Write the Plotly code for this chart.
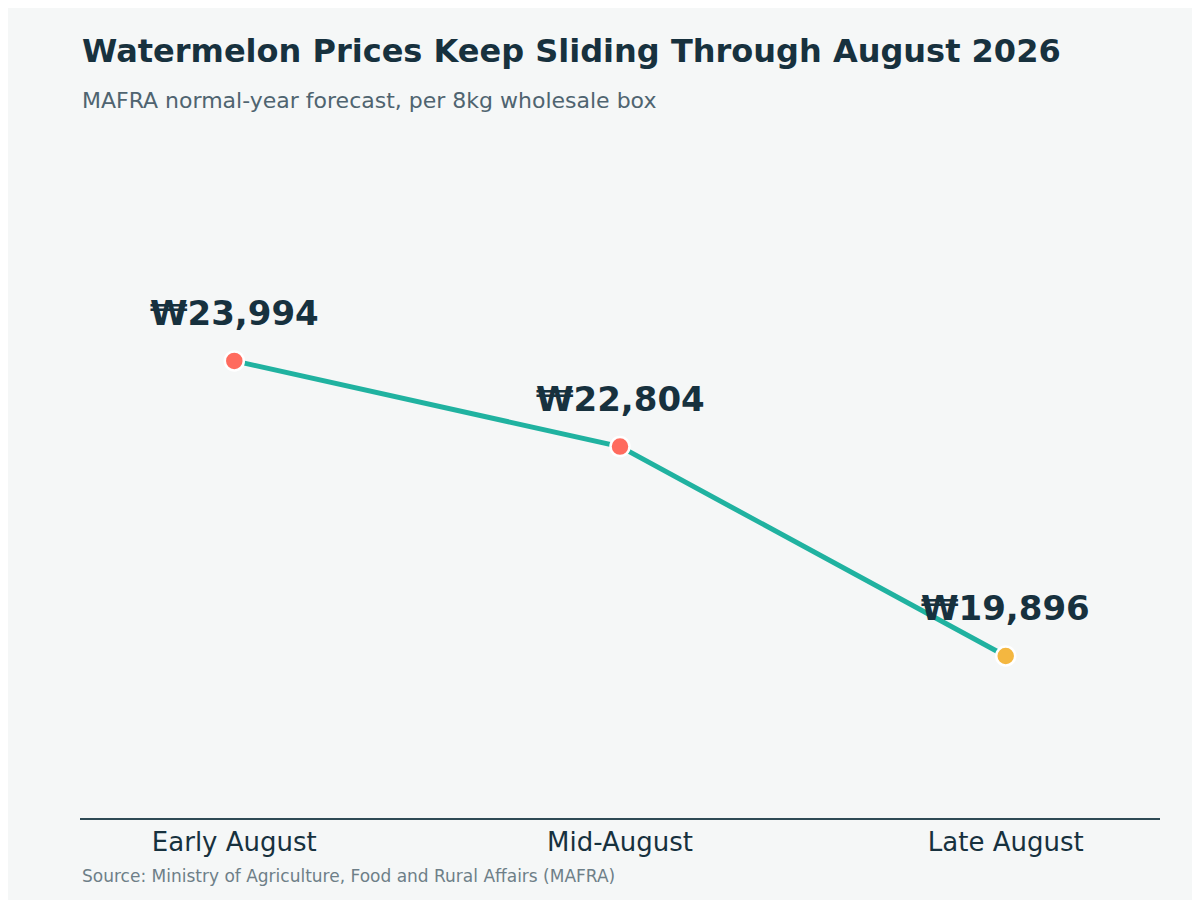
import plotly.graph_objects as go

periods = ["Early August", "Mid-August", "Late August"]
prices = [23994, 22804, 19896]
labels = ["₩23,994", "₩22,804", "₩19,896"]
marker_colors = ["#FF6B5E", "#FF6B5E", "#F4B740"]

fig = go.Figure()
fig.add_trace(go.Scatter(
    x=periods, y=prices, mode="lines+markers",
    line=dict(color="#20B2A0", width=5),
    marker=dict(size=19, color=marker_colors, line=dict(color="white", width=2.5)),
    hoverinfo="skip", showlegend=False,
))
for p, v, t in zip(periods, prices, labels):
    fig.add_annotation(x=p, y=v, text=f"<b>{t}</b>", showarrow=False, yshift=48,
                       font=dict(size=34, color="#17313E", family="DejaVu Sans"))

fig.update_layout(
    width=1200, height=900,
    paper_bgcolor="#F5F7F7", plot_bgcolor="#F5F7F7",
    margin=dict(l=72, r=48, t=130, b=90),
    font=dict(family="DejaVu Sans", color="#17313E"),
    xaxis=dict(type="category", range=[-0.4, 2.4], showgrid=False, zeroline=False,
               showline=True, linecolor="#2E4A55", linewidth=2, ticks="",
               tickfont=dict(size=26, color="#17313E")),
    yaxis=dict(range=[17646, 27090], visible=False),
    annotations=list(fig.layout.annotations) + [
        dict(text="<b>Watermelon Prices Keep Sliding Through August 2026</b>", xref="paper", yref="paper",
             x=0, y=900 - 43, xanchor="left", yanchor="middle", showarrow=False,
             font=dict(size=32, color="#17313E")),
    ],
)
# place header/footer in pixel-ish paper coords
def py(px):
    return (900 - 90 - px) / 680

fig.layout.annotations[-1].update(y=py(43))
fig.add_annotation(text="MAFRA normal-year forecast, per 8kg wholesale box", xref="paper", yref="paper",
                   x=0, y=py(93), xanchor="left", yanchor="middle", showarrow=False,
                   font=dict(size=22, color="#4F6470"))
fig.add_annotation(text="Source: Ministry of Agriculture, Food and Rural Affairs (MAFRA)", xref="paper", yref="paper",
                   x=0, y=py(868), xanchor="left", yanchor="middle", showarrow=False,
                   font=dict(size=17, color="#6E7F88"))

fig.write_html("out.html")
